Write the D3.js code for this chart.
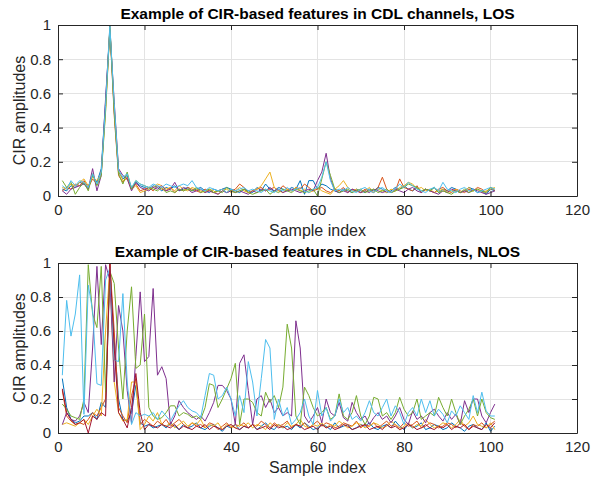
<!DOCTYPE html>
<html><head><meta charset="utf-8">
<script src="https://cdn.jsdelivr.net/npm/d3@7"></script>
<style>
html,body{margin:0;padding:0;background:#fff;}
svg{display:block;font-family:"Liberation Sans",Arial,Helvetica,sans-serif;}
</style></head>
<body>
<svg id="chart" width="602" height="477"></svg>
<script>
// ---------- tick labels ----------
const xTicks = [0, 20, 40, 60, 80, 100, 120];
const yTicks = [0, 0.2, 0.4, 0.6, 0.8, 1];
const titles = ["Example of CIR-based features in CDL channels, LOS",
                "Example of CIR-based features in CDL channels, NLOS"];
const xLabel = "Sample index";
const yLabel = "CIR amplitudes";
const colors = ["#0072BD", "#D95319", "#EDB120", "#7E2F8E", "#77AC30", "#4DBEEE", "#A2142F"];

// ---------- LOS series (sample index 1..101) ----------
const losBlue = [
0.04,0.03,0.06,0.05,0.08,0.07,0.05,0.12,0.08,0.16,
0.55,1.00,0.50,0.14,0.10,0.12,0.04,0.08,0.06,0.05,
0.04,0.06,0.05,0.03,0.05,0.04,0.06,0.03,0.04,0.05,
0.03,0.04,0.05,0.03,0.02,0.04,0.03,0.04,0.05,0.04,
0.03,0.02,0.04,0.03,0.02,0.05,0.03,0.07,0.04,0.03,
0.05,0.04,0.03,0.05,0.04,0.09,0.01,0.09,0.09,0.04,
0.07,0.06,0.04,0.03,0.02,0.04,0.03,0.02,0.04,0.03,
0.02,0.04,0.03,0.05,0.04,0.02,0.03,0.05,0.04,0.06,
0.04,0.03,0.05,0.02,0.04,0.03,0.05,0.02,0.04,0.03,
0.05,0.04,0.02,0.03,0.05,0.04,0.02,0.03,0.01,0.04,
0.03];
const losOrange = [
0.03,0.05,0.04,0.07,0.06,0.09,0.05,0.10,0.07,0.14,
0.52,0.98,0.47,0.12,0.08,0.11,0.05,0.07,0.03,0.04,
0.05,0.03,0.06,0.04,0.03,0.05,0.02,0.04,0.03,0.05,
0.04,0.03,0.02,0.04,0.03,0.02,0.03,0.04,0.02,0.03,
0.04,0.07,0.05,0.02,0.03,0.04,0.05,0.03,0.04,0.05,
0.03,0.06,0.04,0.03,0.05,0.04,0.07,0.05,0.03,0.04,
0.05,0.03,0.02,0.04,0.03,0.05,0.02,0.04,0.03,0.02,
0.04,0.03,0.02,0.05,0.11,0.04,0.02,0.03,0.10,0.05,
0.04,0.03,0.06,0.02,0.04,0.03,0.02,0.04,0.05,0.03,
0.02,0.04,0.03,0.02,0.04,0.03,0.05,0.04,0.02,0.05,
0.03];
const losYellow = [
0.05,0.04,0.07,0.06,0.08,0.10,0.06,0.11,0.09,0.13,
0.50,0.99,0.52,0.15,0.09,0.10,0.04,0.06,0.02,0.03,
0.04,0.05,0.07,0.06,0.04,0.05,0.03,0.06,0.04,0.03,
0.05,0.04,0.03,0.02,0.04,0.03,0.01,0.03,0.04,0.02,
0.03,0.05,0.03,0.02,0.03,0.04,0.06,0.10,0.14,0.05,
0.03,0.02,0.04,0.03,0.05,0.03,0.04,0.02,0.03,0.05,
0.03,0.02,0.01,0.04,0.06,0.09,0.05,0.03,0.04,0.02,
0.03,0.05,0.02,0.04,0.03,0.02,0.04,0.03,0.05,0.06,
0.08,0.07,0.04,0.05,0.03,0.04,0.02,0.03,0.04,0.02,
0.03,0.04,0.02,0.03,0.05,0.03,0.04,0.02,0.03,0.04,
0.05];
const losPurple = [
0.03,0.01,0.04,0.05,0.06,0.07,0.04,0.16,0.03,0.12,
0.57,0.97,0.55,0.16,0.12,0.10,0.03,0.08,0.05,0.04,
0.03,0.05,0.04,0.06,0.03,0.04,0.08,0.03,0.05,0.04,
0.02,0.03,0.04,0.02,0.03,0.02,0.01,0.03,0.02,0.03,
0.02,0.03,0.02,0.01,0.03,0.02,0.04,0.03,0.05,0.03,
0.04,0.02,0.03,0.04,0.03,0.02,0.03,0.04,0.03,0.09,
0.14,0.25,0.10,0.03,0.02,0.03,0.02,0.04,0.03,0.02,
0.03,0.02,0.04,0.03,0.02,0.03,0.02,0.04,0.03,0.02,
0.04,0.05,0.03,0.02,0.04,0.03,0.02,0.01,0.03,0.02,
0.04,0.03,0.02,0.03,0.02,0.04,0.03,0.02,0.01,0.02,
0.03];
const losGreen = [
0.09,0.05,0.08,0.01,0.05,0.08,0.03,0.13,0.06,0.12,
0.49,0.98,0.49,0.13,0.07,0.14,0.04,0.09,0.07,0.06,
0.05,0.04,0.03,0.05,0.02,0.03,0.02,0.04,0.03,0.04,
0.03,0.05,0.02,0.03,0.04,0.02,0.03,0.02,0.05,0.03,
0.02,0.03,0.04,0.02,0.01,0.02,0.03,0.04,0.01,0.03,
0.02,0.04,0.03,0.02,0.04,0.03,0.02,0.03,0.04,0.00,
0.10,0.20,0.12,0.04,0.02,0.03,0.04,0.02,0.03,0.04,
0.02,0.03,0.04,0.02,0.03,0.04,0.02,0.03,0.04,0.05,
0.07,0.06,0.05,0.03,0.04,0.03,0.05,0.02,0.03,0.02,
0.01,0.03,0.02,0.04,0.02,0.03,0.04,0.03,0.02,0.05,
0.04];
const losLightBlue = [
0.06,0.04,0.09,0.06,0.09,0.08,0.05,0.13,0.07,0.14,
0.53,0.99,0.54,0.15,0.11,0.13,0.05,0.09,0.07,0.06,
0.05,0.07,0.06,0.05,0.07,0.06,0.05,0.06,0.07,0.06,
0.09,0.05,0.04,0.03,0.05,0.04,0.03,0.04,0.02,0.04,
0.03,0.04,0.05,0.03,0.04,0.03,0.02,0.04,0.03,0.02,
0.04,0.03,0.05,0.03,0.04,0.05,0.03,0.02,0.04,0.05,
0.11,0.20,0.09,0.03,0.04,0.03,0.05,0.03,0.02,0.04,
0.05,0.03,0.02,0.04,0.05,0.03,0.02,0.04,0.07,0.05,
0.08,0.06,0.04,0.03,0.02,0.04,0.05,0.03,0.08,0.04,
0.03,0.02,0.04,0.05,0.03,0.04,0.02,0.03,0.04,0.05,
0.04];

// ---------- NLOS series (sample index 1..101) ----------
const nlosBlue = [
0.32,0.15,0.08,0.06,0.07,0.10,0.10,0.12,0.08,0.18,
0.15,0.95,0.55,0.20,0.08,0.07,0.12,0.28,0.06,0.04,
0.05,0.03,0.04,0.05,0.03,0.06,0.04,0.02,0.05,0.03,
0.04,0.06,0.03,0.02,0.04,0.05,0.03,0.01,0.04,0.03,
0.05,0.02,0.04,0.03,0.05,0.02,0.04,0.06,0.03,0.02,
0.05,0.03,0.04,0.02,0.05,0.03,0.06,0.04,0.02,0.03,
0.05,0.04,0.02,0.06,0.03,0.04,0.05,0.02,0.03,0.05,
0.04,0.06,0.03,0.02,0.04,0.05,0.03,0.07,0.04,0.02,
0.05,0.03,0.04,0.06,0.02,0.03,0.05,0.04,0.02,0.03,
0.06,0.04,0.03,0.01,0.04,0.05,0.03,0.02,0.06,0.01,
0.04];
const nlosOrange = [
0.25,0.10,0.07,0.05,0.06,0.05,0.08,0.12,0.10,0.15,
0.20,1.00,0.60,0.15,0.10,0.06,0.22,0.32,0.05,0.08,
0.06,0.04,0.07,0.05,0.08,0.04,0.06,0.08,0.05,0.03,
0.06,0.04,0.05,0.03,0.06,0.05,0.02,0.04,0.06,0.03,
0.05,0.04,0.06,0.03,0.05,0.04,0.07,0.05,0.03,0.06,
0.04,0.05,0.07,0.03,0.05,0.04,0.06,0.03,0.05,0.07,
0.04,0.06,0.05,0.03,0.04,0.06,0.05,0.04,0.07,0.03,
0.05,0.04,0.06,0.03,0.05,0.07,0.04,0.05,0.03,0.06,
0.04,0.05,0.07,0.03,0.04,0.06,0.05,0.03,0.04,0.06,
0.05,0.03,0.06,0.04,0.02,0.05,0.04,0.06,0.03,0.05,
0.07];
const nlosYellow = [
0.05,0.06,0.05,0.04,0.06,0.08,0.05,0.10,0.14,0.10,
0.60,0.97,0.30,0.12,0.07,0.08,0.30,0.30,0.02,0.05,
0.10,0.07,0.12,0.05,0.04,0.06,0.03,0.05,0.07,0.04,
0.06,0.05,0.08,0.03,0.05,0.04,0.06,0.02,0.05,0.04,
0.03,0.05,0.04,0.06,0.03,0.05,0.04,0.02,0.06,0.04,
0.05,0.03,0.06,0.04,0.05,0.08,0.04,0.03,0.05,0.04,
0.06,0.03,0.05,0.04,0.07,0.05,0.03,0.04,0.06,0.05,
0.03,0.04,0.06,0.05,0.03,0.04,0.07,0.05,0.02,0.04,
0.06,0.03,0.05,0.04,0.08,0.05,0.03,0.04,0.06,0.05,
0.03,0.05,0.08,0.04,0.06,0.10,0.05,0.04,0.03,0.06,
0.02];
const nlosPurple = [
0.05,0.12,0.08,0.07,0.10,0.18,0.12,0.50,0.98,0.52,
0.99,0.90,0.30,0.75,0.60,0.25,0.06,0.45,0.83,0.42,
0.45,0.85,0.34,0.39,0.32,0.05,0.10,0.19,0.15,0.12,
0.10,0.08,0.10,0.07,0.12,0.18,0.28,0.28,0.25,0.20,
0.05,0.41,0.46,0.25,0.05,0.20,0.22,0.15,0.20,0.12,
0.15,0.10,0.12,0.10,0.66,0.50,0.10,0.06,0.10,0.15,
0.06,0.20,0.12,0.10,0.18,0.09,0.07,0.18,0.12,0.08,
0.10,0.05,0.09,0.12,0.08,0.10,0.06,0.10,0.15,0.08,
0.05,0.13,0.08,0.10,0.06,0.12,0.14,0.10,0.07,0.12,
0.08,0.11,0.05,0.19,0.12,0.20,0.20,0.10,0.06,0.12,
0.17];
const nlosGreen = [
0.17,0.14,0.10,0.09,0.08,0.20,0.99,0.70,0.62,0.98,
0.24,0.95,0.88,0.50,0.20,0.60,0.86,0.38,0.40,0.70,
0.15,0.10,0.08,0.09,0.12,0.16,0.16,0.10,0.12,0.11,
0.09,0.10,0.08,0.15,0.29,0.28,0.15,0.20,0.26,0.32,
0.41,0.05,0.20,0.20,0.18,0.12,0.10,0.24,0.18,0.22,
0.15,0.27,0.64,0.50,0.10,0.05,0.27,0.22,0.15,0.10,
0.12,0.15,0.08,0.10,0.23,0.10,0.08,0.12,0.22,0.10,
0.05,0.10,0.21,0.20,0.10,0.12,0.08,0.12,0.21,0.14,
0.10,0.12,0.20,0.08,0.10,0.12,0.10,0.21,0.15,0.10,
0.20,0.12,0.05,0.10,0.14,0.20,0.10,0.20,0.12,0.09,
0.08];
const nlosLightBlue = [
0.34,0.78,0.57,0.70,0.93,0.11,0.87,0.72,0.29,0.28,
0.90,0.97,0.43,0.42,0.82,0.30,0.05,0.12,0.10,0.11,
0.10,0.12,0.08,0.13,0.10,0.07,0.12,0.16,0.19,0.15,
0.13,0.12,0.09,0.22,0.35,0.34,0.20,0.22,0.27,0.20,
0.10,0.22,0.12,0.42,0.30,0.10,0.32,0.55,0.50,0.08,
0.20,0.10,0.15,0.05,0.08,0.12,0.20,0.10,0.05,0.25,
0.10,0.15,0.07,0.10,0.20,0.12,0.15,0.08,0.10,0.07,
0.12,0.19,0.12,0.10,0.15,0.20,0.10,0.16,0.12,0.05,
0.12,0.15,0.10,0.20,0.12,0.19,0.10,0.14,0.11,0.06,
0.13,0.10,0.16,0.12,0.08,0.22,0.12,0.24,0.13,0.10,
0.10];
const nlosRed = [
0.26,0.12,0.08,0.05,0.06,0.08,0.00,0.10,0.08,0.12,
0.10,1.00,0.50,0.12,0.08,0.03,0.15,0.35,0.12,0.02,
0.05,0.04,0.03,0.05,0.04,0.03,0.05,0.02,0.04,0.03,
0.02,0.04,0.03,0.05,0.02,0.04,0.03,0.02,0.04,0.05,
0.03,0.02,0.04,0.03,0.05,0.02,0.03,0.04,0.02,0.05,
0.03,0.04,0.02,0.03,0.05,0.04,0.02,0.03,0.04,0.02,
0.05,0.03,0.04,0.02,0.03,0.05,0.04,0.02,0.03,0.04,
0.05,0.02,0.03,0.04,0.02,0.05,0.03,0.04,0.02,0.03,
0.05,0.04,0.02,0.03,0.05,0.03,0.02,0.04,0.03,0.05,
0.02,0.04,0.03,0.05,0.02,0.04,0.03,0.02,0.05,0.03,
0.06];

const panels = [
  {title: titles[0], top: 25, bottom: 196,
   series: [losBlue, losOrange, losYellow, losPurple, losGreen, losLightBlue],
   colorIdx: [0,1,2,3,4,5]},
  {title: titles[1], top: 263, bottom: 433,
   series: [nlosBlue, nlosOrange, nlosYellow, nlosPurple, nlosGreen, nlosLightBlue, nlosRed],
   colorIdx: [0,1,2,3,4,5,6]}
];

const svg = d3.select("#chart");
const left = 58, right = 577;
const axisColor = "#262626";

panels.forEach(p => {
  const x = d3.scaleLinear().domain([0, 120]).range([left, right]);
  const y = d3.scaleLinear().domain([0, 1]).range([p.bottom, p.top]);
  const g = svg.append("g");

  // grid
  g.append("g").selectAll("line.vx").data(xTicks.slice(1, -1)).join("line")
    .attr("x1", d => x(d)).attr("x2", d => x(d))
    .attr("y1", p.top).attr("y2", p.bottom)
    .attr("stroke", "#e3e3e3").attr("stroke-width", 1).attr("shape-rendering", "crispEdges");
  g.append("g").selectAll("line.hy").data(yTicks.slice(1, -1)).join("line")
    .attr("x1", left).attr("x2", right)
    .attr("y1", d => y(d)).attr("y2", d => y(d))
    .attr("stroke", "#e3e3e3").attr("stroke-width", 1).attr("shape-rendering", "crispEdges");

  // lines
  const line = d3.line().x((d, i) => x(i + 1)).y(d => y(d));
  p.series.forEach((s, k) => {
    g.append("path").datum(s).attr("d", line)
      .attr("fill", "none").attr("stroke", colors[p.colorIdx[k]])
      .attr("stroke-width", 1).attr("stroke-linejoin", "round");
  });

  // axes
  const styleAxis = sel => {
    sel.select(".domain").attr("stroke", axisColor);
    sel.selectAll(".tick line").attr("stroke", axisColor);
    sel.selectAll("text").attr("fill", axisColor).style("font-size", "15px")
      .style("font-family", "'Liberation Sans', Arial, sans-serif");
  };
  const fmtY = d => d === 0 ? "0" : (d === 1 ? "1" : String(d));
  g.append("g").attr("transform", `translate(0,${p.bottom})`)
    .call(d3.axisBottom(x).tickValues(xTicks).tickSizeInner(-5).tickSizeOuter(0).tickPadding(8))
    .call(styleAxis);
  g.append("g").attr("transform", `translate(0,${p.top})`)
    .call(d3.axisTop(x).tickValues(xTicks).tickSizeInner(-5).tickSizeOuter(0).tickFormat(""))
    .call(styleAxis);
  g.append("g").attr("transform", `translate(${left},0)`)
    .call(d3.axisLeft(y).tickValues(yTicks).tickSizeInner(-5).tickSizeOuter(0).tickPadding(7).tickFormat(fmtY))
    .call(styleAxis);
  g.append("g").attr("transform", `translate(${right},0)`)
    .call(d3.axisRight(y).tickValues(yTicks).tickSizeInner(-5).tickSizeOuter(0).tickFormat(""))
    .call(styleAxis);

  // title
  svg.append("text").attr("x", (left + right) / 2).attr("y", p.top - 6)
    .attr("text-anchor", "middle").attr("font-weight", "bold").attr("font-size", 15.5)
    .attr("fill", "#000").text(p.title);
  // x label
  svg.append("text").attr("x", (left + right) / 2).attr("y", p.bottom + 40)
    .attr("text-anchor", "middle").attr("font-size", 16).attr("fill", axisColor).text(xLabel);
  // y label
  svg.append("text").attr("transform", `translate(25,${(p.top + p.bottom) / 2}) rotate(-90)`)
    .attr("text-anchor", "middle").attr("font-size", 16).attr("fill", axisColor).text(yLabel);
});
</script>
</body></html>
